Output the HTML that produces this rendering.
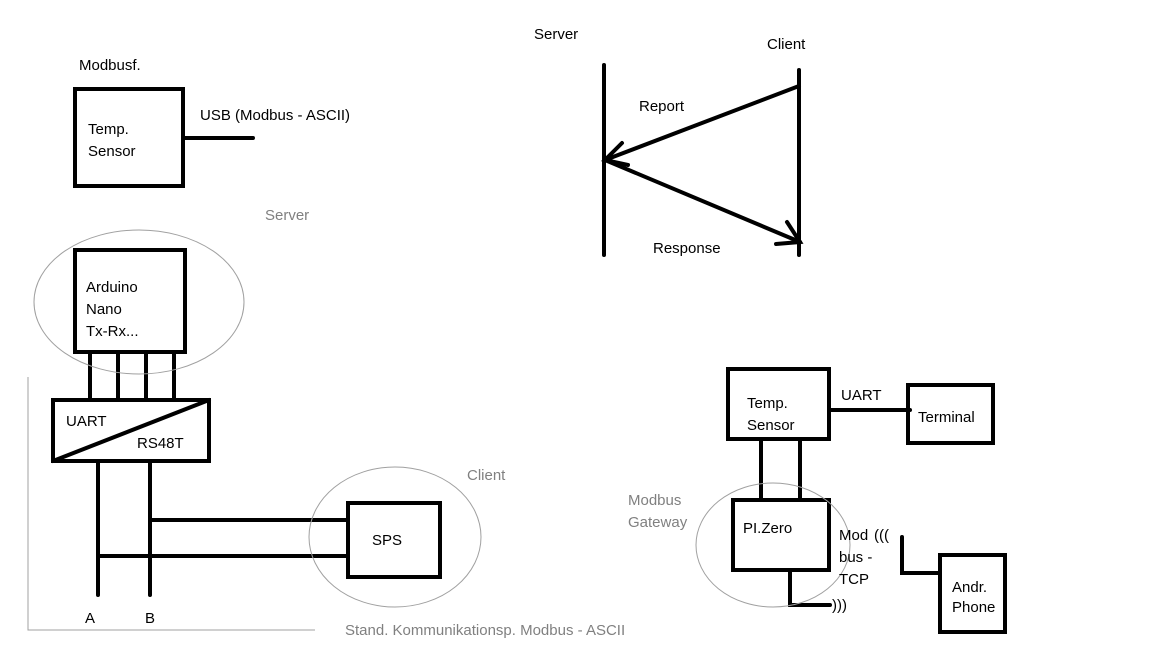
<!DOCTYPE html>
<html><head><meta charset="utf-8"><style>
html,body{margin:0;padding:0;background:#fff;}
svg{display:block;}
text{font-family:"Liberation Sans",sans-serif;font-size:15px;fill:#000;}
.g{fill:#808080;}
</style></head><body>
<svg width="1152" height="648" viewBox="0 0 1152 648" xmlns="http://www.w3.org/2000/svg">
<g fill="none" stroke="#000" stroke-width="4" stroke-linecap="round">
 <rect x="75" y="89" width="108" height="97"/>
 <line x1="183" y1="138" x2="253" y2="138"/>
 <rect x="75" y="250" width="110" height="102"/>
 <line x1="90" y1="352" x2="90" y2="400"/>
 <line x1="118" y1="352" x2="118" y2="400"/>
 <line x1="146" y1="352" x2="146" y2="400"/>
 <line x1="174" y1="352" x2="174" y2="400"/>
 <rect x="53" y="400" width="156" height="61"/>
 <line x1="53" y1="461" x2="209" y2="400"/>
 <line x1="98" y1="461" x2="98" y2="595"/>
 <line x1="150" y1="461" x2="150" y2="595"/>
 <line x1="150" y1="520" x2="348" y2="520"/>
 <line x1="98" y1="556" x2="348" y2="556"/>
 <rect x="348" y="503" width="92" height="74"/>
 <line x1="604" y1="65" x2="604" y2="255"/>
 <line x1="799" y1="70" x2="799" y2="255"/>
 <line x1="799" y1="86" x2="605" y2="160"/>
 <polyline points="622,143 605,160 628,165"/>
 <line x1="605" y1="160" x2="800" y2="242"/>
 <polyline points="787,222 800,242 776,244"/>
 <rect x="728" y="369" width="101" height="70"/>
 <line x1="829" y1="410" x2="910" y2="410"/>
 <rect x="908" y="385" width="85" height="58"/>
 <line x1="761" y1="439" x2="761" y2="500"/>
 <line x1="800" y1="439" x2="800" y2="500"/>
 <rect x="733" y="500" width="96" height="70"/>
 <polyline points="790,570 790,605 830,605"/>
 <polyline points="902,537 902,573 940,573"/>
 <rect x="940" y="555" width="65" height="77"/>
</g>
<g fill="none" stroke="#a0a0a0" stroke-width="1">
 <ellipse cx="139" cy="302" rx="105" ry="72"/>
 <ellipse cx="395" cy="537" rx="86" ry="70"/>
 <ellipse cx="773" cy="545" rx="77" ry="62"/>
 <polyline points="28,377 28,630 315,630"/>
</g>
<text x="79" y="70">Modbusf.</text>
<text x="88" y="134">Temp.</text>
<text x="88" y="156">Sensor</text>
<text x="200" y="120">USB (Modbus - ASCII)</text>
<text x="265" y="220" class="g">Server</text>
<text x="86" y="292">Arduino</text>
<text x="86" y="314">Nano</text>
<text x="86" y="336">Tx-Rx...</text>
<text x="66" y="426">UART</text>
<text x="137" y="448">RS48T</text>
<text x="372" y="545">SPS</text>
<text x="467" y="480" class="g">Client</text>
<text x="85" y="623">A</text>
<text x="145" y="623">B</text>
<text x="345" y="635" class="g">Stand. Kommunikationsp. Modbus - ASCII</text>
<text x="534" y="39">Server</text>
<text x="767" y="49">Client</text>
<text x="639" y="111">Report</text>
<text x="653" y="253">Response</text>
<text x="747" y="408">Temp.</text>
<text x="747" y="430">Sensor</text>
<text x="841" y="400">UART</text>
<text x="918" y="422">Terminal</text>
<text x="628" y="505" class="g">Modbus</text>
<text x="628" y="527" class="g">Gateway</text>
<text x="743" y="533">PI.Zero</text>
<text x="839" y="540">Mod</text>
<text x="874" y="540">(((</text>
<text x="839" y="562">bus -</text>
<text x="839" y="584">TCP</text>
<text x="832" y="610">)))</text>
<text x="952" y="592">Andr.</text>
<text x="952" y="612">Phone</text>
</svg>
</body></html>
